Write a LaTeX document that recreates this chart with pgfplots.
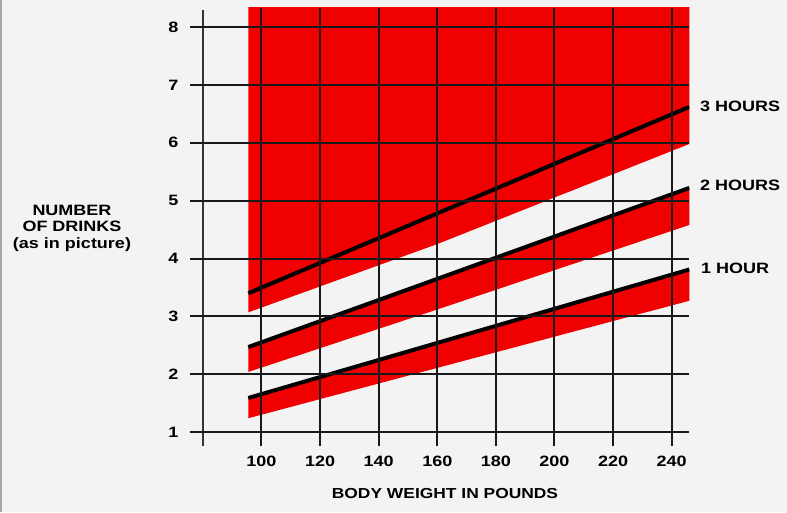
\documentclass[border=0pt]{standalone}
\usepackage{pgfplots}
\pgfplotsset{compat=1.18}
\usepackage{fontspec}
\setmainfont{Liberation Sans}[FakeStretch=1.2]
\definecolor{bg}{RGB}{243,243,243}
\definecolor{chartred}{RGB}{240,0,0}
\begin{document}
\begin{tikzpicture}[x=1pt,y=1pt]
\useasboundingbox (0,0) rectangle (787,512);
\fill[bg] (0,0) rectangle (787,512);
\draw[gray!70, line width=1.5pt] (0.75,0) -- (0.75,512);
\begin{axis}[
  at={(190pt,66pt)}, anchor=south west,
  x=2.93pt, y=57.86pt,
  xmin=75.6, xmax=246, ymin=0.76, ymax=8.33,
  axis line style={draw=none},
  major tick length=0pt,
  xtick={100,120,...,240}, ytick={1,2,...,8},
  grid=major,
  major grid style={black!90, line width=2pt},
  axis on top,
  ticklabel style={font=\fontsize{15}{18}\selectfont\bfseries},
  /pgf/number format/assume math mode=true,
  xticklabel style={yshift=-6pt},
  yticklabel style={xshift=-8pt},
  clip=true,
]
% 3 hours: red region above and band below the line
\addplot[fill=chartred, draw=none] coordinates {
  (95.5,8.4) (246,8.4) (246,5.98) (160,4.25) (95.5,3.07)
} -- cycle;
% 2 hours band
\addplot[fill=chartred, draw=none] coordinates {
  (95.5,2.47) (246,5.22) (246,4.58) (160,3.12) (95.5,2.04)
} -- cycle;
% 1 hour band
\addplot[fill=chartred, draw=none] coordinates {
  (95.5,1.59) (246,3.81) (246,3.27) (95.5,1.24)
} -- cycle;
% y axis line
\draw[line width=2pt, black!80] (axis cs:80,0.76) -- (axis cs:80,8.3);
% limit lines
\addplot[black, line width=4pt] coordinates {(95.5,3.40) (246,6.62)};
\addplot[black, line width=4pt] coordinates {(95.5,2.47) (246,5.22)};
\addplot[black, line width=4pt] coordinates {(95.5,1.59) (246,3.81)};
\end{axis}
\node[align=center, font=\fontsize{15}{16.5}\selectfont\bfseries] at (72,284) {NUMBER\\OF DRINKS\\(as in picture)};
\node[font=\fontsize{14.5}{17}\selectfont\bfseries] at (445,18) {BODY WEIGHT IN POUNDS};
\node[anchor=west, inner sep=0pt, font=\fontsize{15}{18}\selectfont\bfseries] at (700,406) {3 HOURS};
\node[anchor=west, inner sep=0pt, font=\fontsize{15}{18}\selectfont\bfseries] at (700,327) {2 HOURS};
\node[anchor=west, inner sep=0pt, font=\fontsize{15}{18}\selectfont\bfseries] at (701,244) {1 HOUR};
\end{tikzpicture}
\end{document}
